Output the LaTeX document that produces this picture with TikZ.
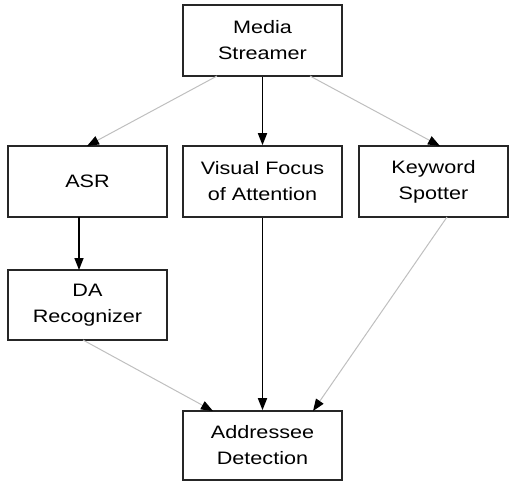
\documentclass[tikz,border=0pt]{standalone}
\usepackage{fontspec}
\setmainfont[FakeStretch=1.2]{Liberation Sans}
\usetikzlibrary{arrows.meta}
\begin{document}
\begin{tikzpicture}[x=1pt,y=-1pt,
  box/.style={draw=black!85,line width=1.6pt,fill=white,align=center,font=\fontsize{18}{26}\selectfont,inner sep=0pt},
  darr/.style={line width=1.6pt,draw=black,-{Triangle[length=12pt,width=9pt,black]}},
  larr/.style={line width=1pt,draw=black!25,-{Triangle[length=12pt,width=9pt,black]}}]
\useasboundingbox (0,0) rectangle (510,482);
\node[box,minimum width=159pt,minimum height=71pt] (ms) at (262.5,40.5) {Media\\Streamer};
\node[box,minimum width=159pt,minimum height=71pt] (asr) at (87.5,181.5) {ASR};
\node[box,minimum width=159pt,minimum height=71pt] (vfoa) at (262.5,181.5) {Visual Focus\\of Attention};
\node[box,minimum width=149pt,minimum height=71pt] (kw) at (433.5,181.5) {Keyword\\Spotter};
\node[box,minimum width=159pt,minimum height=70pt] (da) at (87.5,305) {DA\\Recognizer};
\node[box,minimum width=159pt,minimum height=69pt] (ad) at (262.5,445.5) {Addressee\\Detection};
\draw[larr] (217,76) -- (87,146);
\draw[darr] (ms.south) -- (vfoa.north);
\draw[larr] (310,76) -- (440,146);
\draw[darr] (79,217) -- (79,270);
\draw[darr] (vfoa.south) -- (ad.north);
\draw[larr] (83,340) -- (213,411);
\draw[larr] (447,217) -- (313,411);
\end{tikzpicture}
\end{document}
